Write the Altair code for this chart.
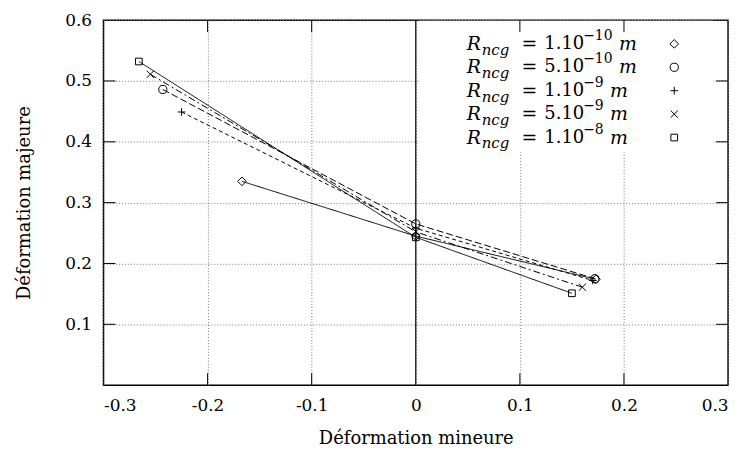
import altair as alt
import pandas as pd

# ---------------- data ----------------
series = ["1e-10", "5e-10", "1e-9", "5e-9", "1e-8"]
mantissa = ["1", "5", "1", "5", "1"]
exponent = ["\u221210", "\u221210", "\u22129", "\u22129", "\u22128"]

x_diamond = [-0.167, 0.0, 0.173]
y_diamond = [0.335, 0.245, 0.174]
x_circle = [-0.243, 0.0, 0.172]
y_circle = [0.486, 0.265, 0.175]
x_plus = [-0.225, 0.0, 0.170]
y_plus = [0.449, 0.258, 0.172]
x_cross = [-0.255, 0.0, 0.160]
y_cross = [0.511, 0.252, 0.161]
x_square = [-0.266, 0.0, 0.150]
y_square = [0.532, 0.243, 0.151]

x_tick_values = [-0.3, -0.2, -0.1, 0.0, 0.1, 0.2, 0.3]
y_tick_values = [0.1, 0.2, 0.3, 0.4, 0.5, 0.6]

# ---------------- build tables ----------------
xs = [x_diamond, x_circle, x_plus, x_cross, x_square]
ys = [y_diamond, y_circle, y_plus, y_cross, y_square]
rows = []
for s, xv, yv in zip(series, xs, ys):
    for k, (a, b) in enumerate(zip(xv, yv)):
        rows.append({"series": s, "x": a, "y": b, "k": k})
df = pd.DataFrame(rows)

shapes = ["diamond", "circle", "M-1,0L1,0M0,-1L0,1", "M-1,-1L1,1M-1,1L1,-1", "square"]
sizes = [75, 45, 50, 40, 40]
dashes = [[1, 0], [7, 3], [4, 3], [7, 3, 2, 3], [1, 0]]
shape_scale = alt.Scale(domain=series, range=shapes)
size_scale = alt.Scale(domain=series, range=sizes)
dash_scale = alt.Scale(domain=series, range=dashes)

XMIN, XMAX, YMIN, YMAX = -0.3, 0.3, 0.0, 0.6
W, H = 628, 367
xs_scale = alt.Scale(domain=[XMIN, XMAX], nice=False, zero=False)
ys_scale = alt.Scale(domain=[YMIN, YMAX], nice=False, zero=False)

FONT = "DejaVu Serif"
label_expr = ("datum.value == 0 ? '0' : (datum.value < 0 ? '-' + format(-datum.value, '.1f')"
              " : format(datum.value, '.1f'))")

x_axis = alt.Axis(values=x_tick_values, labelExpr=label_expr, title="Déformation mineure",
                  grid=True, ticks=False, domain=False, labelPadding=12, titlePadding=17,
                  labelFont=FONT, labelFontSize=17, titleFont=FONT, titleFontSize=18,
                  titleFontWeight="normal", labelColor="black", titleColor="black")
y_axis = alt.Axis(values=y_tick_values, labelExpr=label_expr, title="Déformation majeure",
                  grid=True, ticks=False, domain=False, labelPadding=12, titlePadding=31,
                  labelFont=FONT, labelFontSize=17, titleFont=FONT, titleFontSize=18,
                  titleFontWeight="normal", labelColor="black", titleColor="black")

base = alt.Chart(df)

# legend white box (hides grid lines)
box = alt.Chart(pd.DataFrame({"a": [0]})).mark_rect(color="white").encode(
    x=alt.datum(0.003, scale=xs_scale, axis=x_axis),
    x2=alt.datum(0.2855),
    y=alt.datum(0.383, scale=ys_scale, axis=y_axis),
    y2=alt.datum(0.599),
)

# zero line
zero = alt.Chart(pd.DataFrame({"x": [0.0]})).mark_rule(color="black", strokeWidth=1.2).encode(
    x=alt.X("x:Q", scale=xs_scale),
    y=alt.datum(YMIN),
    y2=alt.datum(YMAX),
)

# inward tick marks (mirrored)
tx = 12 / W * (XMAX - XMIN)
ty = 12 / H * (YMAX - YMIN)
trows = []
for v in x_tick_values:
    if v in (XMIN, XMAX, 0.0):
        continue
    trows.append({"x": v, "x2": v, "y": YMIN, "y2": YMIN + ty})
    trows.append({"x": v, "x2": v, "y": YMAX, "y2": YMAX - ty})
for v in y_tick_values:
    if v == YMAX:
        continue
    trows.append({"x": XMIN, "x2": XMIN + tx, "y": v, "y2": v})
    trows.append({"x": XMAX, "x2": XMAX - tx, "y": v, "y2": v})
ticks = alt.Chart(pd.DataFrame(trows)).mark_rule(color="black", strokeWidth=1).encode(
    x=alt.X("x:Q", scale=xs_scale), x2="x2:Q",
    y=alt.Y("y:Q", scale=ys_scale), y2="y2:Q",
)

lines = base.mark_line(color="black", strokeWidth=1).encode(
    x=alt.X("x:Q", scale=xs_scale),
    y=alt.Y("y:Q", scale=ys_scale),
    detail="series:N",
    strokeDash=alt.StrokeDash("series:N", scale=dash_scale, legend=None),
    order="k:Q",
)

points = base.mark_point(color="black", filled=False, strokeWidth=1, opacity=1).encode(
    x=alt.X("x:Q", scale=xs_scale),
    y=alt.Y("y:Q", scale=ys_scale),
    shape=alt.Shape("series:N", scale=shape_scale, legend=None),
    size=alt.Size("series:N", scale=size_scale, legend=None),
)

# ---------------- custom legend ----------------
leg_y0, leg_step = 0.561, 0.0385
leg = pd.DataFrame({
    "series": series,
    "mant": [m + ".10" for m in mantissa],
    "exp": exponent,
    "ly": [leg_y0 - i * leg_step for i in range(len(series))],
    "two": [len(e) > 2 for e in exponent],
})
lbase = alt.Chart(leg)
LX = 0.049
MX = 0.2483
ly = alt.Y("ly:Q", scale=ys_scale)

leg_marks = lbase.mark_point(color="black", filled=False, strokeWidth=1, opacity=1).encode(
    x=alt.datum(MX), y=ly,
    shape=alt.Shape("series:N", scale=shape_scale, legend=None),
    size=alt.Size("series:N", scale=size_scale, legend=None),
)
common = dict(align="left", baseline="middle", font=FONT, color="black")
t_R = lbase.mark_text(text="R", fontSize=19, fontStyle="italic", dx=0, **common).encode(
    x=alt.datum(LX), y=ly)
t_sub = lbase.mark_text(text="ncg", fontSize=15, fontStyle="italic", dx=15, dy=6, **common).encode(
    x=alt.datum(LX), y=ly)
t_eq = lbase.mark_text(text="=", fontSize=19, dx=55, **common).encode(
    x=alt.datum(LX), y=ly)
t_mant = lbase.mark_text(fontSize=18, dx=78, **common).encode(
    x=alt.datum(LX), y=ly, text="mant:N")
t_exp = lbase.mark_text(fontSize=14, dx=117, dy=-8, **common).encode(
    x=alt.datum(LX), y=ly, text="exp:N")
t_m2 = lbase.mark_text(text="m", fontSize=19, fontStyle="italic", dx=153, **common).encode(
    x=alt.datum(LX), y=ly).transform_filter("datum.two")
t_m1 = lbase.mark_text(text="m", fontSize=19, fontStyle="italic", dx=144, **common).encode(
    x=alt.datum(LX), y=ly).transform_filter("!datum.two")

chart = alt.layer(
    box, zero, ticks, lines, points, leg_marks, t_R, t_sub, t_eq, t_mant, t_exp, t_m2, t_m1
).properties(
    width=W, height=H,
    autosize=alt.AutoSizeParams(type="none"),
    padding={"left": 96, "top": 11, "right": 14, "bottom": 62},
    background="white",
).configure_view(
    stroke="black", strokeWidth=1.5
).configure_axis(
    gridColor="#777", gridDash=[1, 2], gridWidth=1, gridOpacity=1
)

chart.save("out.html", embed_options={"renderer": "svg", "actions": False})
